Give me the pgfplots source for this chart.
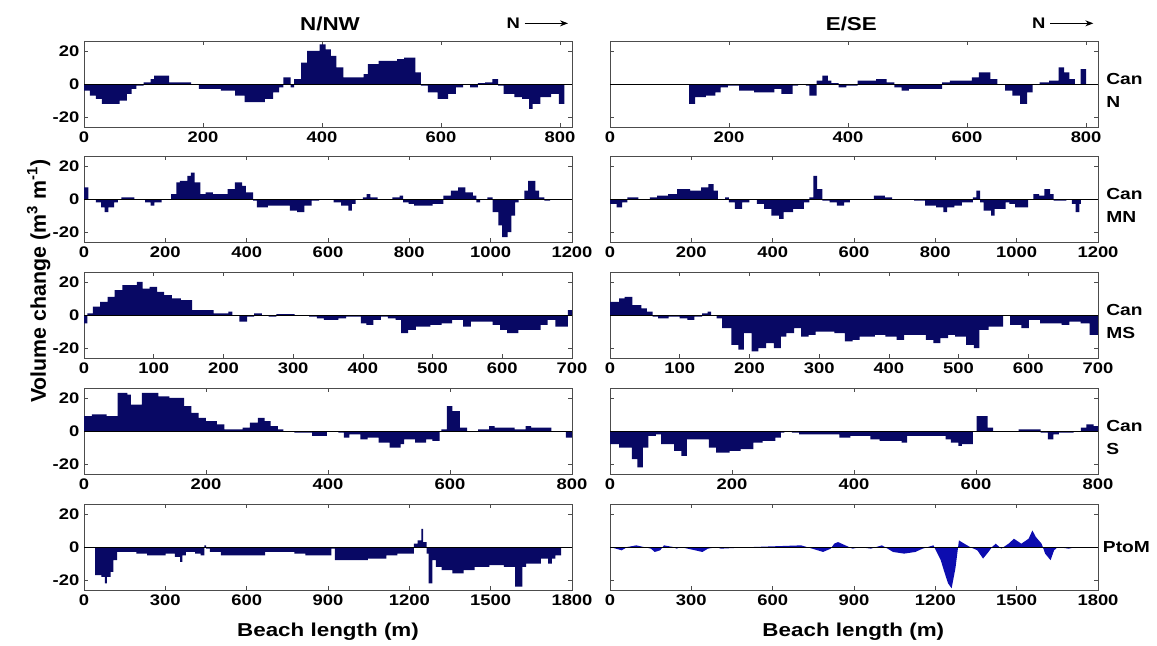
\documentclass[border=0pt]{standalone}
\usepackage{fontspec}
\setmainfont{Liberation Sans}[FakeStretch=1.2]
\newfontfamily\plainsans{Liberation Sans}
\usepackage{pgfplots}
\pgfplotsset{compat=1.18}
\usetikzlibrary{arrows.meta}
\definecolor{navy}{RGB}{8,8,100}
\definecolor{pblue}{RGB}{12,12,175}
\pgfplotsset{
 panel/.style={
   scale only axis, width=366pt, height=64.5pt,
   ymin=-26, ymax=26, ytick={-20,0,20},
   tick align=inside, major tick length=3pt,
   axis line style={black!70, line width=0.6pt},
   every tick/.style={black!70, line width=0.5pt},
   ticklabel style={font=\bfseries\fontsize{11.5}{12}\selectfont},
   anchor=south west, clip=true,
 },
 leftp/.style={panel, yticklabels={-20,0,20}},
 rightp/.style={panel, yticklabels={}},
 bars/.style={fill=navy, draw=none, const plot mark left},
 zl/.style={black, line width=0.6pt},
}
\begin{document}
\begin{tikzpicture}
\path[use as bounding box] (0,0) rectangle (867.75pt,-484.5pt);
% ---------- Row 1 : Can N
\begin{axis}[leftp, at={(63pt,-95.25pt)}, xmin=0, xmax=820,
  xtick={0,200,400,600,800}, xticklabels={0,200,400,600,800}]
\addplot[bars] coordinates {(0,-4)(10,-7)(20,-9)(30,-12)(60,-10)(72,-6)(80,-3)(88,-1)(100,1)(112,3)(118,5)(143,1)(180,0)(193,-3)(230,-4)(254,-7)(270,-11)(304,-9)(318,-5)(328,-2)(335,4)(347,-2)(353,3)(365,13)(375,20)(396,24)(406,21)(415,17)(424,10)(436,4)(470,6)(477,12)(495,14)(526,15)(538,16)(557,7)(566,-1)(578,-5)(594,-9)(612,-6)(625,-2)(637,-0.5)(649,-2)(662,0.5)(674,1)(686,3)(696,-1)(705,-6)(723,-8)(736,-9)(748,-15)(754,-12)(767,-8)(785,-6)(798,-12)(807,-12)} \closedcycle;
\addplot[zl] coordinates {(0,0)(820,0)};
\end{axis}
\begin{axis}[rightp, at={(457.5pt,-95.25pt)}, xmin=0, xmax=820,
  xtick={0,200,400,600,800}, xticklabels={0,200,400,600,800}]
\addplot[bars] coordinates {(133,-12)(143,-8)(161,-7)(177,-5)(186,-2)(198,-1)(217,-4)(242,-5)(276,-3)(288,-6)(307,-1)(316,0)(329,-1)(335,-7)(347,2)(357,5)(366,2)(372,0.5)(384,-2)(397,-1)(416,2)(447,3)(465,1)(478,-2)(490,-4)(502,-3)(558,1)(571,2)(608,4)(620,7)(639,3)(651,0)(664,-4)(676,-7)(689,-12)(701,-5)(710,0)(722,1)(738,2)(754,10)(763,7)(772,3)(781,0)(791,9)(800,9)} \closedcycle;
\addplot[zl] coordinates {(0,0)(820,0)};
\end{axis}
% ---------- Row 2 : Can MN
\begin{axis}[leftp, at={(63pt,-181.5pt)}, xmin=0, xmax=1200,
  xtick={0,200,400,600,800,1000,1200}, xticklabels={0,200,400,600,800,1000,1200}]
\addplot[bars] coordinates {(0,7)(11,-0.5)(29,-2)(42,-5)(51,-8)(60,-5)(74,-2)(83,0)(92,1)(124,0)(150,-2)(164,-4)(173,-2)(191,0)(214,3)(227,10)(236,11)(254,14)(263,16)(272,10)(286,3)(299,4)(317,3)(353,6)(371,10)(389,8)(398,4)(416,-1)(425,-5)(452,-4)(506,-7)(524,-8)(542,-4)(560,-1)(578,0)(614,-2)(632,-4)(650,-7)(659,-3)(668,0)(686,1)(695,3)(704,1)(722,0)(758,1)(776,2)(785,-2)(798,-3)(812,-4)(857,-3)(884,2)(902,5)(920,7)(938,4)(956,2)(965,-2)(974,0)(992,1)(1005,-8)(1019,-16)(1028,-23)(1042,-20)(1051,-10)(1060,-2)(1069,0)(1083,5)(1092,11)(1110,5)(1119,1)(1132,-1)(1146,0)(1155,0)} \closedcycle;
\addplot[zl] coordinates {(0,0)(1200,0)};
\end{axis}
\begin{axis}[rightp, at={(457.5pt,-181.5pt)}, xmin=0, xmax=1200,
  xtick={0,200,400,600,800,1000,1200}, xticklabels={0,200,400,600,800,1000,1200}]
\addplot[bars] coordinates {(0,-3)(16,-5)(30,-2)(43,1)(70,0)(98,1)(116,2)(143,3)(165,6)(197,5)(224,7)(242,9)(255,5)(265,0)(283,1)(292,-2)(307,-6)(325,-2)(343,0)(361,-3)(379,-6)(397,-10)(416,-12)(427,-8)(450,-6)(477,-2)(490,1)(500,14)(509,6)(522,-1)(540,-2)(558,-4)(576,-2)(590,0)(649,2)(676,1)(694,0)(748,-1)(775,-4)(802,-5)(820,-8)(829,-5)(847,-4)(865,-2)(892,1)(901,5)(910,-2)(919,-7)(937,-10)(946,-6)(973,-2)(982,-3)(996,-5)(1028,0)(1041,3)(1055,2)(1068,6)(1082,3)(1091,-1)(1122,0)(1136,-3)(1145,-8)(1154,-3)(1158,-3)} \closedcycle;
\addplot[zl] coordinates {(0,0)(1200,0)};
\end{axis}
% ---------- Row 3 : Can MS
\begin{axis}[leftp, at={(63pt,-268.5pt)}, xmin=0, xmax=700,
  xtick={0,100,200,300,400,500,600,700}, xticklabels={0,100,200,300,400,500,600,700}]
\addplot[bars] coordinates {(0,-5)(4.7,1)(12.6,5)(23,8)(34,11)(44,15)(55,18)(65,18)(76,20)(84,16)(94,17)(105,14)(115,12)(126,10)(139,9)(155,3)(176,3)(186,1)(197,1)(207,2)(213,0)(223,-4)(234,-1)(244,1)(255,0)(265,-1)(276,0.5)(302,0)(323,-1)(334,-2)(344,-3)(365,-2)(376,-1)(397,-5)(405,-6)(415,-3)(426,-1)(436,-2)(447,-3)(455,-11)(465,-9)(476,-7)(497,-6)(513,-5)(528,-3)(544,-7)(555,-4)(565,-4)(586,-6)(597,-9)(607,-11)(623,-9)(639,-9)(655,-6)(665,-3)(676,-7)(694,3)(700,3)} \closedcycle;
\addplot[zl] coordinates {(0,0)(700,0)};
\end{axis}
\begin{axis}[rightp, at={(457.5pt,-268.5pt)}, xmin=0, xmax=700,
  xtick={0,100,200,300,400,500,600,700}, xticklabels={0,100,200,300,400,500,600,700}]
\addplot[bars] coordinates {(0,8)(5,8)(13,10)(21,11)(32,6)(37,6)(45,4)(53,2)(61,-1)(69,-2)(84,-1)(100,-2)(111,-3)(121,-1)(132,1)(140,2)(145,0)(153,-2)(161,-8)(174,-18)(184,-21)(192,-11)(203,-22)(213,-20)(224,-17)(235,-20)(245,-13)(253,-11)(264,-8)(274,-13)(285,-12)(295,-10)(322,-11)(337,-16)(348,-15)(358,-13)(380,-12)(395,-13)(411,-15)(422,-12)(453,-15)(464,-17)(474,-14)(485,-12)(495,-13)(511,-18)(522,-20)(530,-9)(543,-7)(564,0)(574,-6)(590,-8)(601,-3)(617,-5)(648,-6)(659,-4)(675,-5)(688,-12)(700,-12)} \closedcycle;
\addplot[zl] coordinates {(0,0)(700,0)};
\end{axis}
% ---------- Row 4 : Can S
\begin{axis}[leftp, at={(63pt,-355.5pt)}, xmin=0, xmax=800,
  xtick={0,200,400,600,800}, xticklabels={0,200,400,600,800}]
\addplot[bars] coordinates {(0,9)(13,10)(37,9)(55,23)(71,22)(77,16)(95,23)(122,21)(140,20)(164,15)(176,11)(188,8)(200,6)(218,4)(230,1)(248,1)(260,2)(272,5)(285,8)(296,6)(306,3)(318,1)(327,0)(345,-1)(362,-1)(374,-3)(398,0)(417,-1)(426,-4)(435,-2)(453,-5)(465,-4)(483,-7)(501,-10)(519,-8)(525,-5)(543,-7)(561,-5)(571,-6)(583,0)(586,1)(595,15)(604,12)(616,2)(628,0)(646,1)(664,3)(673,2)(706,1)(724,3)(733,2)(766,0)(790,-4)(800,-4)} \closedcycle;
\addplot[zl] coordinates {(0,0)(800,0)};
\end{axis}
\begin{axis}[rightp, at={(457.5pt,-355.5pt)}, xmin=0, xmax=800,
  xtick={0,200,400,600,800}, xticklabels={0,200,400,600,800}]
\addplot[bars] coordinates {(0,-8)(15,-10)(36,-17)(45,-22)(54,-10)(63,-3)(75,-2)(84,-8)(105,-12)(117,-15)(126,-5)(162,-10)(174,-13)(196,-12)(214,-11)(235,-7)(250,-6)(271,-4)(280,-1)(286,0)(298,-1)(310,-2)(376,-4)(394,-3)(427,-5)(442,-6)(478,-7)(487,-3)(550,-5)(559,-7)(571,-9)(577,-8)(595,0)(601,9)(619,2)(628,0)(670,1)(706,-1)(718,-5)(727,-2)(736,-1)(760,0)(772,2)(781,4)(793,3)(800,3)} \closedcycle;
\addplot[zl] coordinates {(0,0)(800,0)};
\end{axis}
% ---------- Row 5 : PtoM
\begin{axis}[leftp, at={(63pt,-442.5pt)}, xmin=0, xmax=1800,
  xtick={0,300,600,900,1200,1500,1800}, xticklabels={0,300,600,900,1200,1500,1800}]
\addplot[bars] coordinates {(0,0)(41,-17)(64,-18)(77,-22)(84,-18)(98,-15)(108,-8)(122,-3)(193,-4)(233,-5)(301,-4)(335,-6)(355,-9)(363,-5)(376,-3)(410,-4)(430,-5)(444,1)(450,-1)(464,-3)(505,-5)(573,-5)(668,-3)(722,-3)(776,-4)(817,-5)(912,-1)(925,-8)(1047,-7)(1115,-5)(1156,-4)(1217,2)(1231,4)(1244,11)(1251,3)(1264,-4)(1271,-22)(1285,-8)(1298,-12)(1319,-14)(1359,-16)(1400,-14)(1441,-12)(1495,-11)(1549,-12)(1590,-24)(1617,-12)(1631,-10)(1685,-7)(1712,-10)(1726,-7)(1739,-5)(1760,0)} \closedcycle;
\addplot[zl] coordinates {(0,0)(1800,0)};
\end{axis}
\begin{axis}[rightp, at={(457.5pt,-442.5pt)}, xmin=0, xmax=1800,
  xtick={0,300,600,900,1200,1500,1800}, xticklabels={0,300,600,900,1200,1500,1800}]
\addplot[fill=pblue, draw=none] coordinates {(0,0)(43,-2)(64,0)(97,1)(151,-1)(165,-3)(185,-2)(199,1)(232,0)(246,-1)(259,0)(341,-3)(361,-1)(395,0)(408,-1)(530,0)(705,1)(746,-1)(786,-3)(814,-1)(827,2)(841,3)(868,1)(895,-1)(922,0)(962,-1)(1003,1)(1024,-1)(1044,-3)(1085,-4)(1126,-3)(1153,-1)(1193,1)(1220,-8)(1233,-15)(1247,-22)(1260,-25)(1274,-13)(1287,4)(1307,2)(1328,0)(1355,-2)(1376,-7)(1396,-3)(1409,0)(1423,2)(1443,-1)(1470,2)(1490,5)(1517,2)(1544,5)(1558,10)(1571,6)(1592,2)(1605,-4)(1625,-8)(1638,-2)(1652,0)(1692,-1)(1719,0)(1787,0)} \closedcycle;
\addplot[zl] coordinates {(0,0)(1800,0)};
\end{axis}
% ---------- titles and labels
\node[font=\bfseries\fontsize{14}{15}\selectfont] at (247.5pt,-18pt) {N/NW};
\node[font=\bfseries\fontsize{14}{15}\selectfont] at (638.5pt,-18pt) {E/SE};
\node[font=\bfseries\fontsize{11.5}{12}\selectfont] at (385pt,-17.5pt) {N};
\draw[-{Stealth[length=6pt,width=4.5pt]}, line width=0.7pt] (393.5pt,-17.5pt) -- (426pt,-17.5pt);
\node[font=\bfseries\fontsize{11.5}{12}\selectfont] at (779pt,-17.5pt) {N};
\draw[-{Stealth[length=6pt,width=4.5pt]}, line width=0.7pt] (787.5pt,-17.5pt) -- (820pt,-17.5pt);
\begin{scope}[every node/.style={anchor=west, font=\bfseries\fontsize{12}{13}\selectfont, inner sep=0pt}]
\node at (829.5pt,-59.25pt) {Can}; \node at (829.5pt,-76.5pt) {N};
\node at (829.5pt,-145.5pt) {Can}; \node at (829.5pt,-162.75pt) {MN};
\node at (829.5pt,-232.5pt) {Can}; \node at (829.5pt,-249.75pt) {MS};
\node at (829.5pt,-319.5pt) {Can}; \node at (829.5pt,-336.75pt) {S};
\node at (827pt,-410.25pt) {PtoM};
\end{scope}
\node[rotate=90, font=\plainsans\bfseries\fontsize{16}{18}\selectfont] at (29pt,-211pt) {Volume change (m\textsuperscript{3} m\textsuperscript{-1})};
\node[font=\bfseries\fontsize{14}{16}\selectfont] at (246pt,-474pt) {Beach length (m)};
\node[font=\bfseries\fontsize{14}{16}\selectfont] at (640pt,-474pt) {Beach length (m)};
\end{tikzpicture}
\end{document}
